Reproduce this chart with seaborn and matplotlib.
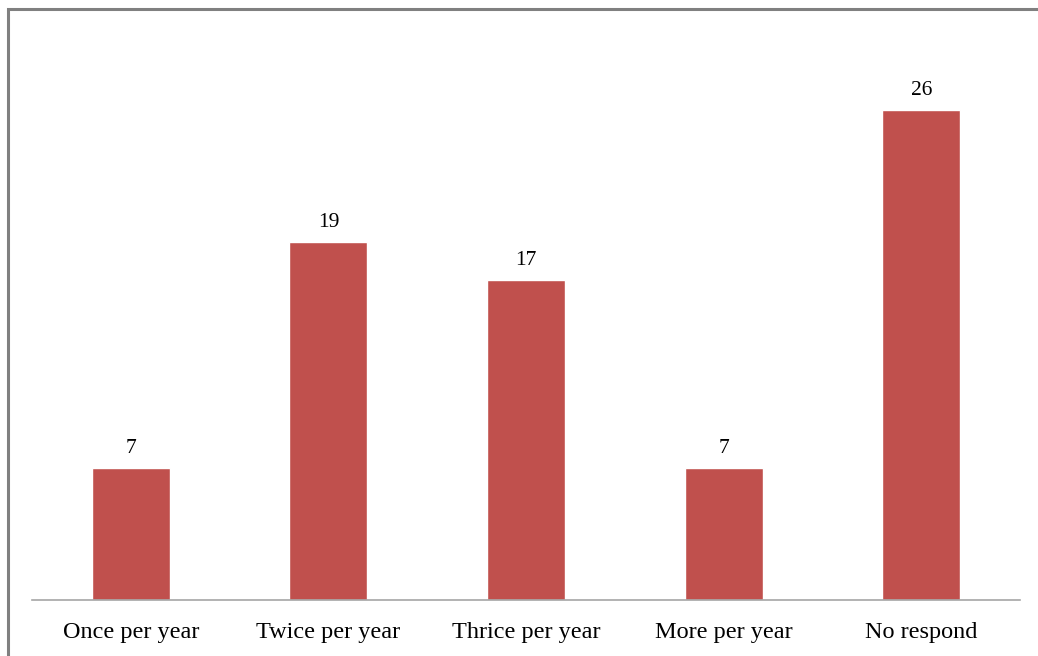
import matplotlib
matplotlib.use("Agg")
import matplotlib.pyplot as plt
import seaborn as sns
import pandas as pd
from matplotlib.patches import Rectangle

sns.set_theme(style="white")
plt.rcParams['font.family'] = ['Liberation Serif', 'DejaVu Serif']

# Data
categories = ["Once per year", "Twice per year", "Thrice per year", "More per year", "No respond"]
counts = [7, 19, 17, 7, 26]

df = pd.DataFrame({"Frequency": categories, "Count": counts})

fig = plt.figure(figsize=(10.38, 6.56), dpi=100)
ax = fig.add_axes([32 / 1038, 56 / 656, 988 / 1038, 565.5 / 656])

sns.barplot(data=df, x="Frequency", y="Count", color="#C0504D", width=0.395,
            saturation=1, ax=ax)

ax.set_ylim(0, 30)
ax.set_xlim(-0.5, len(categories) - 0.5)
ax.set_xlabel("")
ax.set_ylabel("")
ax.set_yticks([])
ax.tick_params(axis="x", length=0, labelsize=17.5, colors="black", pad=16)
for s in ["top", "left", "right"]:
    ax.spines[s].set_visible(False)
ax.spines["bottom"].set_color("#A6A6A6")
ax.spines["bottom"].set_linewidth(1.2)

for i, v in enumerate(counts):
    ax.annotate(str(v), (i, v), xytext=(0, 7), textcoords="offset points",
                ha="center", va="bottom", fontsize=15.5, color="black")

# outer border of the chart area
fig.patches.append(Rectangle((7.5 / 1038, -0.1), 1.2, (656 - 8.5) / 656 + 0.1,
                             transform=fig.transFigure, fill=False,
                             edgecolor="#808080", linewidth=2.2))

fig.savefig("out.png", dpi=100)
